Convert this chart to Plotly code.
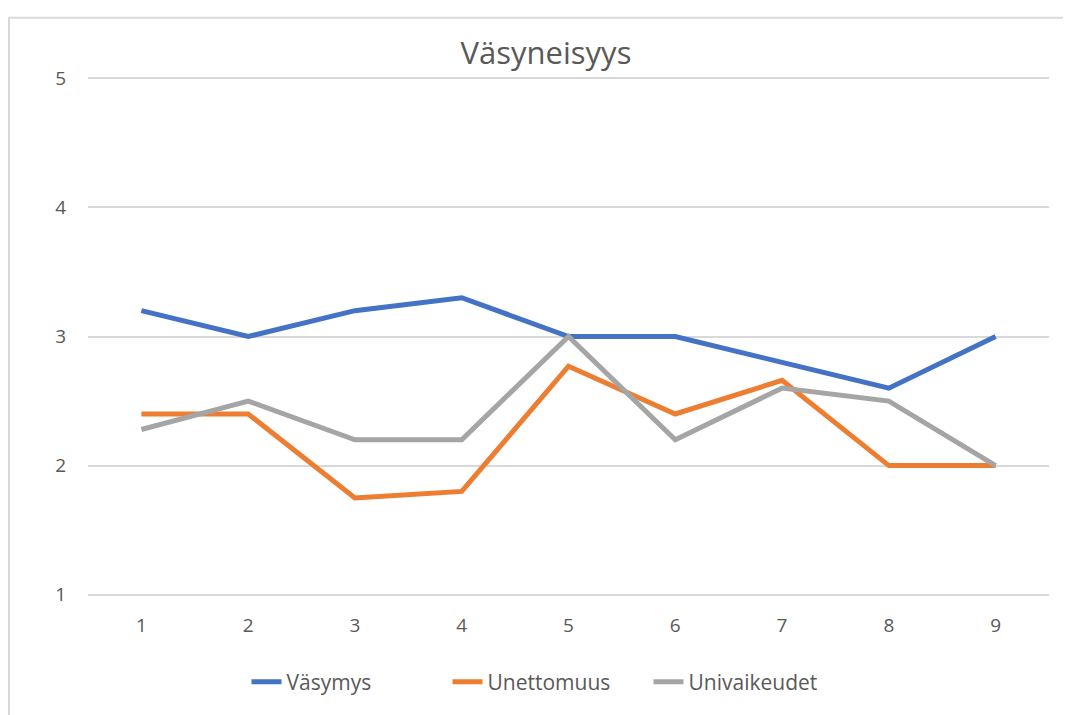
import plotly.graph_objects as go

categories = ["1", "2", "3", "4", "5", "6", "7", "8", "9"]
vasymys = [3.2, 3.0, 3.2, 3.3, 3.0, 3.0, 2.8, 2.6, 3.0]
unettomuus = [2.4, 2.4, 1.75, 1.8, 2.77, 2.4, 2.66, 2.0, 2.0]
univaikeudet = [2.28, 2.5, 2.2, 2.2, 3.0, 2.2, 2.6, 2.5, 2.0]
series_names = ["Väsymys", "Unettomuus", "Univaikeudet"]
colors = ["#4472C4", "#ED7D31", "#A5A5A5"]
y_ticks = [1, 2, 3, 4, 5]

# page body has an 8px margin; work in window pixel coords and shift
OFF = 8
W, H = 1071 - OFF, 715 - OFF
pad = 0.01
left, right, top, bottom = 88, 1049, 78, 598  # window px of plot area (y 5 .. 1)
unit = (bottom - top) / 4.0
ml = left - OFF
mr = (1071 - right)
mt = top - OFF - pad * unit
mb = 715 - bottom - pad * unit
pw = right - left
ph = (bottom - top) + 2 * pad * unit

fig = go.Figure()
for name, vals, col in zip(series_names, [vasymys, unettomuus, univaikeudet], colors):
    fig.add_trace(go.Scatter(x=list(range(1, 10)), y=vals, mode="lines", name=name,
                             line=dict(color=col, width=5)))

def px_x(p):
    return (p - left) / pw

def px_y(p):
    return (bottom + pad * unit - p) / ph

fig.update_layout(
    width=W, height=H,
    margin=dict(l=ml, r=mr, t=mt, b=mb),
    paper_bgcolor="white", plot_bgcolor="white",
    font=dict(family="Open Sans", color="#595959"),
    title=dict(text="Väsyneisyys", x=(546 - OFF) / W, xref="container",
               xanchor="center", y=1 - (53 - OFF) / H, yanchor="middle",
               font=dict(size=31, color="#595959", family="Open Sans")),
    xaxis=dict(range=[0.5, 9.5], tickmode="array", tickvals=list(range(1, 10)),
               ticktext=categories, showgrid=False, zeroline=False, showline=False,
               ticks="", tickfont=dict(size=19, color="#595959"), ticklabelstandoff=16),
    yaxis=dict(range=[1 - pad, 5 + pad], tickmode="array", tickvals=y_ticks,
               ticktext=[str(v) for v in y_ticks], showgrid=True, gridcolor="#D9D9D9",
               gridwidth=1.5, zeroline=False, showline=False, ticks="",
               tickfont=dict(size=19, color="#595959"), ticklabelstandoff=21),
    showlegend=True,
    legend=dict(orientation="h", x=px_x(548), xanchor="center", y=px_y(686), yanchor="middle",
                font=dict(size=21, color="#595959"), itemwidth=30, tracegroupgap=0,
                entrywidth=156, entrywidthmode="pixels",
                bgcolor="rgba(0,0,0,0)"),
    shapes=[dict(type="rect", xref="paper", yref="paper",
                 x0=px_x(9), x1=px_x(1085), y0=px_y(730), y1=px_y(17),
                 line=dict(color="#D9D9D9", width=2), fillcolor="rgba(0,0,0,0)", layer="below")],
)

fig.write_html("out.html")
